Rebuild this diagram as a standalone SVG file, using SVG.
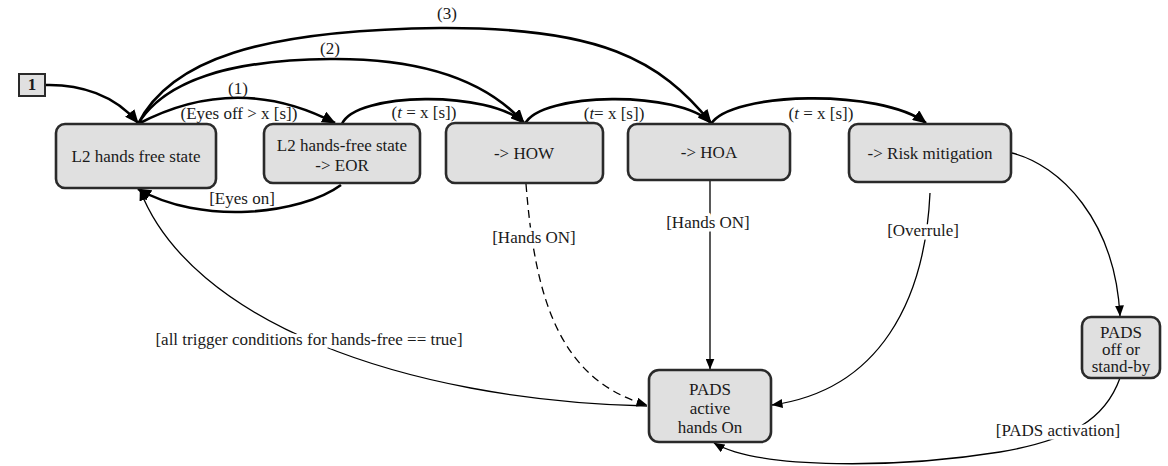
<svg xmlns="http://www.w3.org/2000/svg" width="1168" height="466" viewBox="0 0 1168 466">
<style>
.node{fill:#e0e0e0;stroke:#2a2a2a;stroke-width:2.6}
.t{font-family:"Liberation Serif","Times New Roman",serif;font-size:17px;fill:#1a1a1a;text-anchor:middle}
.lbl{font-family:"Liberation Serif","Times New Roman",serif;font-size:17px;fill:#1a1a1a;text-anchor:middle}
.halo{paint-order:stroke;stroke:#fff;stroke-width:7;stroke-linejoin:round}
.thick{fill:none;stroke:#000;stroke-width:2.6}
.thin{fill:none;stroke:#000;stroke-width:1.3}
.dash{stroke-dasharray:8 5}
</style>
<defs>
<marker id="ah" markerUnits="userSpaceOnUse" markerWidth="14" markerHeight="12" viewBox="0 0 14 12" refX="13" refY="6" orient="auto">
<path d="M0,0 L14,6 L0,12 z" fill="#000"/>
</marker>
<marker id="as" markerUnits="userSpaceOnUse" markerWidth="11" markerHeight="9" viewBox="0 0 11 9" refX="10.5" refY="4.5" orient="auto">
<path d="M0,0 L11,4.5 L0,9 z" fill="#000"/>
</marker>
</defs>
<rect width="1168" height="466" fill="#fff"/>

<g id="connectors">
<path class="thick" d="M45,85 C80,84 115,95 138,123" marker-end="url(#ah)"/>
<path class="thick" d="M138,124 Q237,72 335,123" marker-end="url(#ah)"/>
<path class="thick" d="M138,124 C165,80 230,60 330,59 C430,58 490,85 524,123" marker-end="url(#ah)"/>
<path class="thick" d="M138,124 C170,60 260,30 440,28 C600,27 660,60 711,123" marker-end="url(#ah)"/>
<path class="thick" d="M342,124 C355,92 490,90 524,123" marker-end="url(#ah)"/>
<path class="thick" d="M525,124 C540,92 680,90 711,123" marker-end="url(#ah)"/>
<path class="thick" d="M711,124 C730,92 880,88 926,123" marker-end="url(#ah)"/>
<path class="thick" d="M341,185 C300,215 200,225 138,189" marker-end="url(#ah)"/>
<path class="thin" d="M647,406 C400,400 190,320 140,190" marker-end="url(#as)"/>
<path class="thin dash" d="M526,184 C535,300 560,380 647,405" marker-end="url(#as)"/>
<path class="thin" d="M710,180 L710,369" marker-end="url(#as)"/>
<path class="thin" d="M930,193 C925,300 880,390 772,405" marker-end="url(#as)"/>
<path class="thin" d="M1012,153 C1060,165 1115,220 1120,316" marker-end="url(#as)"/>
<path class="thin" d="M1120,378 C1105,420 1070,440 1000,452 C900,468 760,470 714,443" marker-end="url(#as)"/>
</g>

<g id="labels">
<text class="lbl" x="238" y="94">(1)</text>
<text class="lbl" x="330" y="54">(2)</text>
<text class="lbl" x="447" y="19">(3)</text>
<text class="lbl" x="239" y="119">(Eyes off &gt; x [s])</text>
<text class="lbl" x="424" y="118">(<tspan font-style="italic">t</tspan> = x [s])</text>
<text class="lbl" x="614" y="119">(<tspan font-style="italic">t</tspan>= x [s])</text>
<text class="lbl" x="821" y="119">(<tspan font-style="italic">t</tspan> = x [s])</text>
<text class="lbl" x="242" y="204">[Eyes on]</text>
<text class="lbl halo" x="534" y="243">[Hands ON]</text>
<text class="lbl halo" x="708" y="228">[Hands ON]</text>
<text class="lbl halo" x="923" y="236">[Overrule]</text>
<text class="lbl halo" x="309" y="345">[all trigger conditions for hands-free == true]</text>
<text class="lbl halo" x="1058" y="436">[PADS activation]</text>
</g>

<g id="n_start">
<rect x="19" y="74" width="26" height="22" fill="#e0e0e0" stroke="#2a2a2a" stroke-width="2"/>
<text class="t" x="32" y="90" font-weight="bold">1</text>
</g>
<g id="n_l2">
<rect class="node" x="56" y="124" width="160" height="64" rx="9"/>
<text class="t" x="136" y="162">L2 hands free state</text>
</g>
<g id="n_eor">
<rect class="node" x="264" y="124" width="156" height="59" rx="9"/>
<text class="t" x="342" y="151">L2 hands-free state</text>
<text class="t" x="342" y="171">-&gt; EOR</text>
</g>
<g id="n_how">
<rect class="node" x="446" y="123" width="157" height="60" rx="9"/>
<text class="t" x="524" y="159">-&gt; HOW</text>
</g>
<g id="n_hoa">
<rect class="node" x="628" y="124" width="162" height="56" rx="9"/>
<text class="t" x="709" y="158">-&gt; HOA</text>
</g>
<g id="n_risk">
<rect class="node" x="849" y="124" width="162" height="58" rx="9"/>
<text class="t" x="930" y="159">-&gt; Risk mitigation</text>
</g>
<g id="n_pads_active">
<rect class="node" x="649" y="370" width="122" height="72" rx="10"/>
<text class="t" x="710" y="395">PADS</text>
<text class="t" x="710" y="414">active</text>
<text class="t" x="710" y="433">hands On</text>
</g>
<g id="n_pads_off">
<rect class="node" x="1082" y="317" width="78" height="61" rx="9"/>
<text class="t" x="1121" y="338">PADS</text>
<text class="t" x="1121" y="355">off or</text>
<text class="t" x="1121" y="372">stand-by</text>
</g>
</svg>
